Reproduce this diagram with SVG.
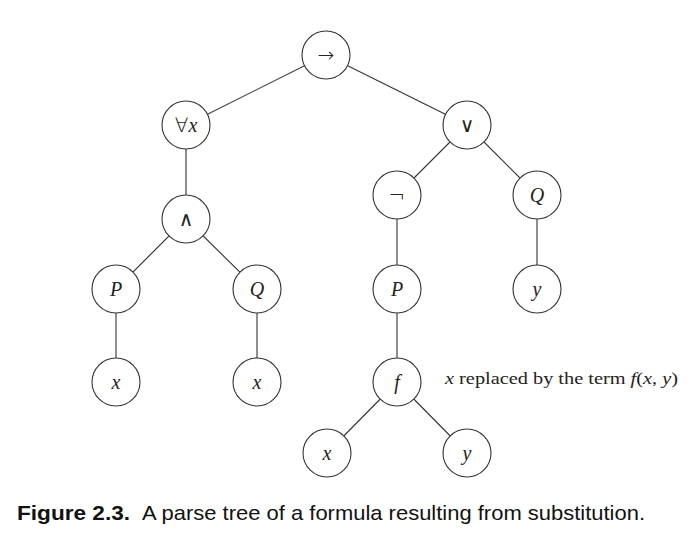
<svg xmlns="http://www.w3.org/2000/svg" width="692" height="537" viewBox="0 0 692 537">
  <style>
    .edge { stroke: #333; stroke-width: 1.1; fill: none; }
    .node circle { fill: #fff; stroke: #333; stroke-width: 1.1; }
    .lbl { font-family: "DejaVu Sans", "DejaVu Serif", sans-serif; font-weight: 200; font-size: 20px; fill: #222; text-anchor: middle; dominant-baseline: central; }
    .it { font-style: italic; font-weight: normal; font-family: "Liberation Serif", "DejaVu Serif", serif; font-size: 20px; }
    .note { font-family: "Liberation Serif", "DejaVu Serif", serif; font-size: 17px; fill: #222; }
    .cap { font-family: "Liberation Sans", Arial, sans-serif; font-size: 21px; fill: #111; }
  </style>
  <rect width="692" height="537" fill="#fff"/>

  <!-- connectors -->
  <g id="edges">
    <line class="edge" x1="326" y1="55" x2="186" y2="125"/>
    <line class="edge" x1="326" y1="55" x2="467" y2="125"/>
    <line class="edge" x1="186" y1="125" x2="186" y2="219"/>
    <line class="edge" x1="186" y1="219" x2="116" y2="289"/>
    <line class="edge" x1="186" y1="219" x2="257" y2="289"/>
    <line class="edge" x1="116" y1="289" x2="116" y2="382"/>
    <line class="edge" x1="257" y1="289" x2="257" y2="382"/>
    <line class="edge" x1="467" y1="125" x2="397" y2="195"/>
    <line class="edge" x1="467" y1="125" x2="537" y2="195"/>
    <line class="edge" x1="397" y1="195" x2="397" y2="289"/>
    <line class="edge" x1="537" y1="195" x2="537" y2="289"/>
    <line class="edge" x1="397" y1="289" x2="397" y2="382"/>
    <line class="edge" x1="397" y1="382" x2="327" y2="453"/>
    <line class="edge" x1="397" y1="382" x2="467" y2="453"/>
  </g>

  <!-- nodes -->
  <g id="n-imp" class="node"><circle cx="326" cy="55" r="24"/><text class="lbl" x="326" y="55">→</text></g>
  <g id="n-forall" class="node"><circle cx="186" cy="125" r="24"/><text class="lbl" x="186" y="125">∀<tspan class="it">x</tspan></text></g>
  <g id="n-or" class="node"><circle cx="467" cy="125" r="24"/><text class="lbl" x="467" y="125">∨</text></g>
  <g id="n-and" class="node"><circle cx="186" cy="219" r="24"/><text class="lbl" x="186" y="219">∧</text></g>
  <g id="n-not" class="node"><circle cx="397" cy="195" r="24"/><text class="lbl" x="397" y="195">¬</text></g>
  <g id="n-q1" class="node"><circle cx="537" cy="195" r="24"/><text class="lbl it" x="537" y="195">Q</text></g>
  <g id="n-p1" class="node"><circle cx="116" cy="289" r="24"/><text class="lbl it" x="116" y="289">P</text></g>
  <g id="n-q2" class="node"><circle cx="257" cy="289" r="24"/><text class="lbl it" x="257" y="289">Q</text></g>
  <g id="n-p2" class="node"><circle cx="397" cy="289" r="24"/><text class="lbl it" x="397" y="289">P</text></g>
  <g id="n-y1" class="node"><circle cx="537" cy="289" r="24"/><text class="lbl it" x="537" y="289">y</text></g>
  <g id="n-x1" class="node"><circle cx="116" cy="382" r="24"/><text class="lbl it" x="116" y="382">x</text></g>
  <g id="n-x2" class="node"><circle cx="257" cy="382" r="24"/><text class="lbl it" x="257" y="382">x</text></g>
  <g id="n-f" class="node"><circle cx="397" cy="382" r="24"/><text class="lbl it" x="397" y="382">f</text></g>
  <g id="n-x3" class="node"><circle cx="327" cy="453" r="24"/><text class="lbl it" x="327" y="453">x</text></g>
  <g id="n-y2" class="node"><circle cx="467" cy="453" r="24"/><text class="lbl it" x="467" y="453">y</text></g>

  <!-- annotation -->
  <text class="note" x="445" y="384" textLength="233" lengthAdjust="spacingAndGlyphs"><tspan font-style="italic">x</tspan> replaced by the term <tspan font-style="italic">f</tspan>(<tspan font-style="italic">x</tspan>, <tspan font-style="italic">y</tspan>)</text>

  <!-- caption -->
  <text class="cap" x="17" y="520" font-weight="bold" textLength="113" lengthAdjust="spacingAndGlyphs">Figure 2.3.</text>
  <text class="cap" x="142" y="520" textLength="503" lengthAdjust="spacingAndGlyphs">A parse tree of a formula resulting from substitution.</text>
</svg>
